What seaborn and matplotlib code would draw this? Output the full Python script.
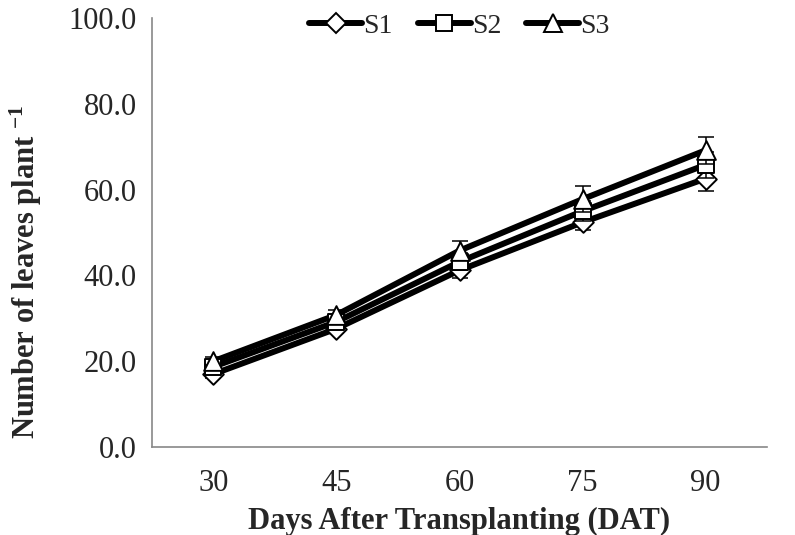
import matplotlib
matplotlib.use("Agg")
import matplotlib.pyplot as plt
from matplotlib.lines import Line2D
import seaborn as sns
import pandas as pd
import numpy as np

# Data: number of leaves per plant at each sampling date
days = ["30", "45", "60", "75", "90"]
series = ["S1", "S2", "S3"]
s1 = [17.0, 27.6, 41.2, 52.4, 62.6]
s2 = [18.7, 29.2, 43.2, 55.0, 65.8]
s3 = [20.0, 30.8, 45.8, 57.8, 69.2]
s1_err = [0.8, 1.0, 1.9, 1.9, 3.0]
s2_err = [0.8, 1.1, 2.0, 2.4, 3.0]
s3_err = [0.9, 1.2, 2.3, 3.0, 3.1]

sns.set_theme(style="white")
plt.rcParams["font.family"] = ["Liberation Serif", "DejaVu Serif"]
plt.rcParams["mathtext.fontset"] = "custom"
plt.rcParams["mathtext.rm"] = "Liberation Serif"
plt.rcParams["mathtext.bf"] = "Liberation Serif:bold"

TICK_FS = 22
LABEL_FS = 22
LEG_FS = 20
means = {"S1": s1, "S2": s2, "S3": s3}
errs = {"S1": s1_err, "S2": s2_err, "S3": s3_err}
markers = {"S1": "D", "S2": "s", "S3": "^"}
msize = {"S1": 10.5, "S2": 11.5, "S3": 13.5}
LW = 4.3

df = pd.DataFrame({
    "day": np.tile(np.arange(len(days)), len(series)),
    "value": s1 + s2 + s3,
    "series": np.repeat(series, len(days)),
})

fig = plt.figure(figsize=(7.95, 5.35), dpi=100)
ax = fig.add_axes([0.191, 0.1645, 0.774, 0.8015])

# thick connecting lines
sns.lineplot(data=df, x="day", y="value", hue="series", palette=["black"] * 3,
             linewidth=LW, ax=ax, legend=False, zorder=2)

# error bars and markers per series
for i, s in enumerate(series):
    x = np.arange(len(days))
    ax.errorbar(x, means[s], yerr=errs[s], fmt="none", ecolor="black",
                elinewidth=1.1, capsize=6, capthick=1.1, zorder=3 + i)
    sub = df[df["series"] == s]
    sns.scatterplot(data=sub, x="day", y="value", marker=markers[s],
                    s=msize[s] ** 2, color="white", edgecolor="black",
                    linewidth=1.4, ax=ax, zorder=4 + i, legend=False)

ax.set_xlim(-0.5, len(days) - 0.5)
ax.set_ylim(0, 100)
yt = np.arange(0, 101, 20)
ax.set_yticks(yt)
ax.set_yticklabels([f"{v:.1f}" for v in yt], fontsize=TICK_FS)
ax.set_xticks(np.arange(len(days)))
ax.set_xticklabels(days, fontsize=TICK_FS)
ax.set_xticks(np.arange(-0.5, len(days), 1.0), minor=True)
ax.tick_params(axis="x", which="major", length=0, pad=16)
ax.tick_params(axis="x", which="minor", length=6, width=1.2, color="#888888",
               direction="out")
ax.tick_params(axis="y", length=6, width=1.2, color="#888888", direction="out",
               pad=5)

for side in ["top", "right"]:
    ax.spines[side].set_visible(False)
for side in ["left", "bottom"]:
    ax.spines[side].set_color("#888888")
    ax.spines[side].set_linewidth(1.2)

ax.set_xlabel("Days After Transplanting (DAT)", fontsize=LABEL_FS,
              fontweight="bold", labelpad=6)
ax.set_ylabel(r"Number of leaves plant $\mathbf{^{-1}}$", fontsize=LABEL_FS,
              fontweight="bold")
ax.yaxis.set_label_coords(-0.176, 0.408)

# legend
handles = [Line2D([0], [0], color="black", linewidth=LW, marker=markers[s],
                  markersize=msize[s] * 0.95, markerfacecolor="white",
                  markeredgecolor="black", markeredgewidth=1.4)
           for s in series]
ax.legend(handles, series, loc="upper center", bbox_to_anchor=(0.5, 1.07),
          ncol=3, frameon=False, fontsize=LEG_FS, handlelength=1.9,
          handletextpad=0.05, columnspacing=0.9)

fig.savefig("out.png", dpi=100)
